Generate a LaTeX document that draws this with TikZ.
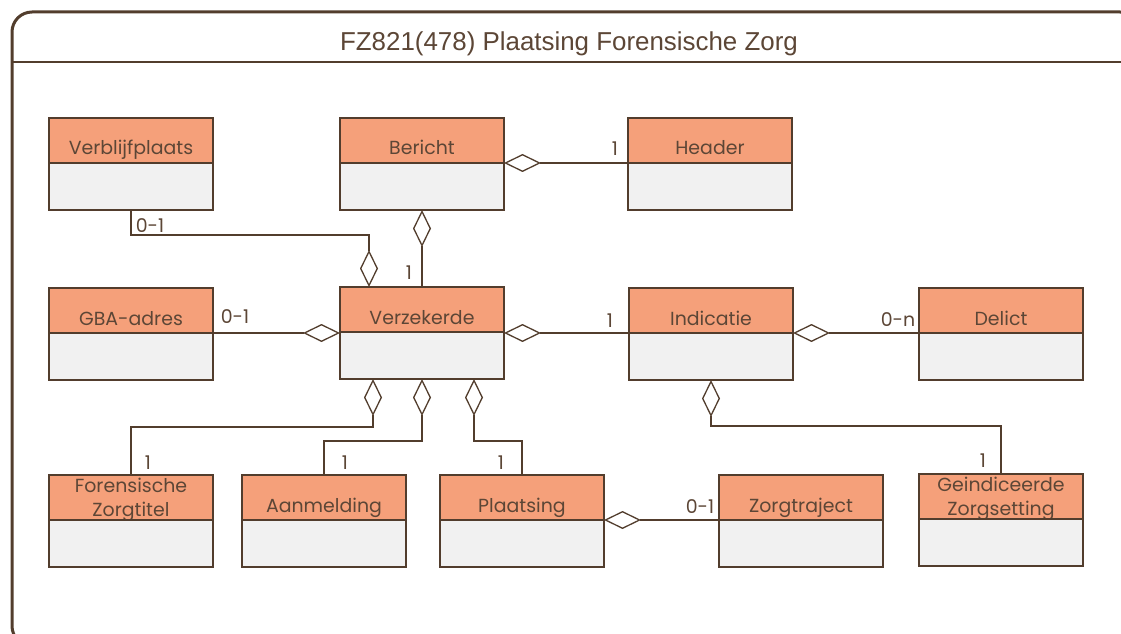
\documentclass[tikz,border=0pt]{standalone}
\usepackage{fontspec}
\setmainfont{Poppins}
\newfontfamily\titlefont{Liberation Sans}
\usepackage{tikz}
\usetikzlibrary{arrows.meta, positioning}
\definecolor{umlbrown}{RGB}{82,61,45}
\definecolor{umltext}{RGB}{92,70,54}
\definecolor{umlsalmon}{RGB}{245,160,122}
\definecolor{umlgrey}{RGB}{241,241,241}

\begin{document}
\begin{tikzpicture}[x=1bp, y=-1bp,
      font=\fontsize{19}{23.5}\selectfont,
      hdr/.style={draw=umlbrown, fill=umlsalmon, line width=1.5bp, minimum width=164bp, minimum height=45bp, inner sep=0pt, outer sep=0pt, anchor=north west, text=umltext, align=center, text height=29bp, text depth=0bp},
      hdrtwo/.style={hdr, text height=37bp},
      bdy/.style={draw=umlbrown, fill=umlgrey, line width=1.5bp, minimum width=164bp, minimum height=47bp, inner sep=0pt, outer sep=0pt},
      agg/.style={draw=umlbrown, line width=1.3bp, -{Diamond[open, length=37bp, width=18bp]}},
      mult/.style={text=umltext, inner sep=0pt}
    ]
    \useasboundingbox (0,0) rectangle (1121,634);
    \clip (0,0) rectangle (1121,634);

    % frame
    \draw[umlbrown, line width=3bp, rounded corners=20bp] (12,12) rectangle (1140,646);
    \draw[umlbrown, line width=2.5bp] (12,62) -- (1140,62);
    \node[font=\titlefont\fontsize{26}{30}\selectfont, text=umltext, inner sep=0pt] (title) at (569,44) {FZ821(478) Plaatsing Forensische Zorg};

    % classes
    \node[hdr] (vb) at (49,118) {Verblijfplaats};
    \node[bdy, below=0pt of vb] (vb-b) {};
    \node[hdr] (be) at (340,118) {Bericht};
    \node[bdy, below=0pt of be] (be-b) {};
    \node[hdr] (hd) at (628,118) {Header};
    \node[bdy, below=0pt of hd] (hd-b) {};

    \node[hdr] (gba) at (49,288) {GBA-adres};
    \node[bdy, below=0pt of gba] (gba-b) {};
    \node[hdr] (vz) at (340,287) {Verzekerde};
    \node[bdy, below=0pt of vz] (vz-b) {};
    \node[hdr] (ind) at (629,288) {Indicatie};
    \node[bdy, below=0pt of ind] (ind-b) {};
    \node[hdr] (de) at (919,288) {Delict};
    \node[bdy, below=0pt of de] (de-b) {};

    \node[hdrtwo] (fz) at (49,475) {Forensische\\Zorgtitel};
    \node[bdy, below=0pt of fz] (fz-b) {};
    \node[hdr] (am) at (242,475) {Aanmelding};
    \node[bdy, below=0pt of am] (am-b) {};
    \node[hdr] (pl) at (440,475) {Plaatsing};
    \node[bdy, below=0pt of pl] (pl-b) {};
    \node[hdr] (zt) at (719,475) {Zorgtraject};
    \node[bdy, below=0pt of zt] (zt-b) {};
    \node[hdrtwo] (gz) at (919,474) {Geindiceerde\\Zorgsetting};
    \node[bdy, below=0pt of gz] (gz-b) {};

    % aggregations
    \draw[agg] (hd.south west) -- (be.south east);
    \draw[agg] (vz.north) -- (be-b.south);
    \draw[agg] (vb-b.south) -- ++(0,25) -| ([xshift=29bp]vz.north west);
    \draw[agg] (gba.south east) -- (gba.south east -| vz.west);
    \draw[agg] (ind.south west) -- (ind.south west -| vz.east);
    \draw[agg] (de.south west) -- (ind.south east);
    \draw[agg] (fz.north) -- ++(0,-48) -| ([xshift=-49bp]vz-b.south);
    \draw[agg] (am.north) -- ++(0,-34) -| (vz-b.south);
    \draw[agg] (pl.north) -- ++(0,-34) -| ([xshift=52bp]vz-b.south);
    \draw[agg] (gz.north) -- ++(0,-48) -| (ind-b.south);
    \draw[agg] (zt.south west) -- (pl.south east);

    % multiplicities
    \node[mult] (m-vb) at (150,226) {0-1};
    \node[mult] (m-be) at (409,273) {1};
    \node[mult] (m-hd) at (615,149) {1};
    \node[mult] (m-gba) at (235,317) {0-1};
    \node[mult] (m-ind) at (610,321) {1};
    \node[mult] (m-de) at (898,320) {0-n};
    \node[mult] (m-fz) at (148,463) {1};
    \node[mult] (m-am) at (345,463) {1};
    \node[mult] (m-pl) at (501,463) {1};
    \node[mult] (m-gz) at (983,461) {1};
    \node[mult] (m-zt) at (700,507) {0-1};
  \end{tikzpicture}
\end{document}
